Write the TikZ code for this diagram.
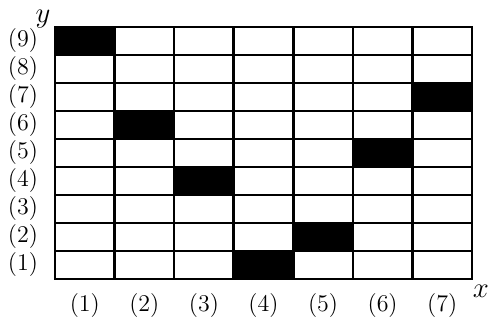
\documentclass[tikz,border=0pt]{standalone}
\usepackage{tikz}
\begin{document}
\begin{tikzpicture}[
  x=29.8pt,y=14pt,
  cellbox/.style={draw,line width=1.35pt,minimum width=29.8pt,minimum height=14pt,inner sep=0pt,outer sep=0pt},
  filledbox/.style={cellbox,fill=black},
  lbl/.style={font=\fontsize{11.5}{13}\selectfont,inner sep=0pt},
  axislbl/.style={font=\fontsize{14}{16}\selectfont,inner sep=0pt}
]
\useasboundingbox (-27.5pt,-21pt) rectangle (219.6pt,139.5pt);
% grid of cells
\foreach \i in {1,...,7}
  \foreach \j in {1,...,9}
    \node[cellbox] (c\i\j) at (\i-0.5,\j-0.5) {};
% black cells
\foreach \i/\j in {1/9,7/7,2/6,6/5,3/4,5/2,4/1}
  \node[filledbox] (b\i\j) at (\i-0.5,\j-0.5) {};
% labels
\foreach \i in {1,...,7}
  \node[lbl] (xl\i) at ([yshift=-13.5pt]c\i1.south) {$(\i)$};
\foreach \j in {1,...,9}
  \node[lbl] (yl\j) at ([xshift=-16pt]c1\j.west) {$(\j)$};
\node[axislbl] (xaxis) at ([xshift=4.5pt,yshift=-6pt]c71.south east) {$x$};
\node[axislbl] (yaxis) at ([xshift=-6pt,yshift=4pt]c19.north west) {$y$};
\end{tikzpicture}
\end{document}
